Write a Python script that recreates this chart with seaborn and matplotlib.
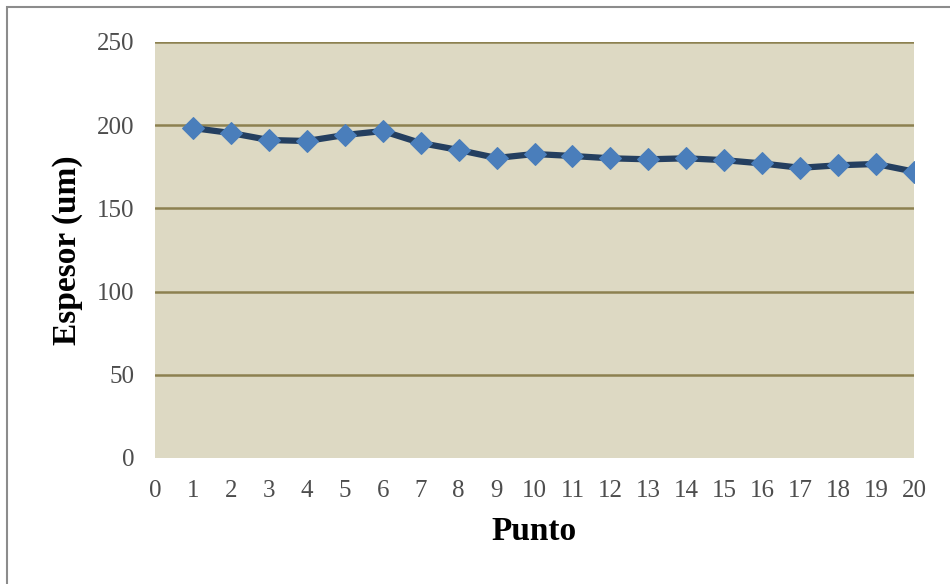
import numpy as np
import pandas as pd
import matplotlib.pyplot as plt
import seaborn as sns
from matplotlib.patches import Rectangle

# datos
punto = list(range(1, 21))
espesor = [198.3, 195.3, 191.1, 190.5, 194.1, 196.5, 189.3, 185.1, 180.3, 182.7,
           181.5, 180.1, 179.5, 180.1, 179.0, 177.0, 174.4, 175.9, 176.7, 172.1]
xticks = list(range(0, 21))
yticks = [0, 50, 100, 150, 200, 250]

df = pd.DataFrame({"Punto": punto, "Espesor": espesor})

sns.set_style("white")
plt.rcParams['font.family'] = ['Liberation Serif', 'DejaVu Serif']

fig = plt.figure(figsize=(9.5, 5.84), dpi=100)
ax = fig.add_axes([155/950, 1-458/584, (914-155)/950, (458-42)/584])
ax.set_facecolor('#DDD9C3')

# marco exterior
fig.patches.append(Rectangle((7/950, -0.1), 1.2, 1-7/584+0.1, transform=fig.transFigure,
                             fill=False, edgecolor='#8c8c8c', linewidth=1.5))

for y in yticks[1:]:
    ax.axhline(y, color='#8C8150', linewidth=1.8, zorder=1)

sns.lineplot(data=df, x="Punto", y="Espesor", ax=ax, color='#243F60', linewidth=4.5,
             marker='D', markersize=11, markerfacecolor='#4A7EBB', markeredgecolor='#4A7EBB',
             zorder=3)

ax.set_xlim(0, 20)
ax.set_ylim(0, 250)
ax.set_xticks(xticks)
ax.set_yticks(yticks)
ax.set_xticklabels([str(t) for t in xticks], fontsize=18, color='#4d4d4d')
ax.set_yticklabels([str(t) for t in yticks], fontsize=18, color='#4d4d4d')
ax.tick_params(axis='x', length=0, pad=16)
ax.tick_params(axis='y', length=0, pad=15)
for s in ax.spines.values():
    s.set_visible(False)

ax.set_xlabel('Punto', fontsize=24, fontweight='bold', labelpad=10, color='black')
ax.set_ylabel('Espesor (um)', fontsize=24, fontweight='bold', labelpad=10, color='black')

plt.savefig('out.png', dpi=100)
